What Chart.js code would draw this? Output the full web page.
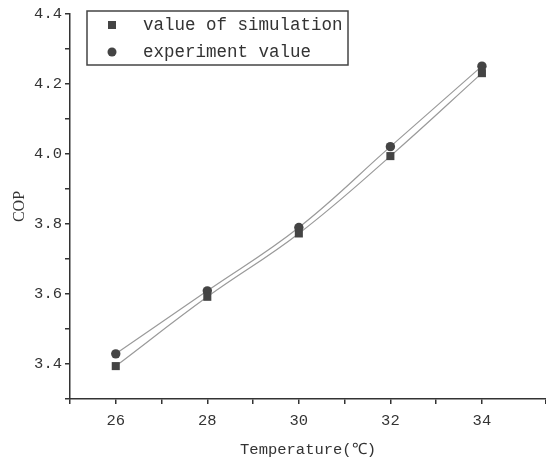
<!DOCTYPE html>
<html>
<head>
<meta charset="utf-8">
<script src="https://cdn.jsdelivr.net/npm/chart.js@4.4.1/dist/chart.umd.min.js"></script>
<style>
  html, body { margin: 0; padding: 0; background: #fff; }
  #wrap { width: 546px; height: 459px; }
</style>
</head>
<body>
<div id="wrap"><canvas id="copChart" width="546" height="459"></canvas></div>
<script>
// COP vs temperature
const temperatures = [26, 28, 30, 32, 34];
const simulationCop = [3.394, 3.592, 3.773, 3.994, 4.231];
const experimentCop = [3.429, 3.609, 3.790, 4.021, 4.251];
const xTickLabels = [26, 28, 30, 32, 34];
const yTickLabels = [3.4, 3.6, 3.8, 4.0, 4.2, 4.4];

const FONT = "'Liberation Mono', 'DejaVu Sans Mono', monospace";
const INK = '#333';

function toPoints(xs, ys) {
    return xs.map((x, i) => ({ x: x, y: ys[i] }));
}

// Boxed legend drawn inside the plot, upper left
const boxLegend = {
    id: 'boxLegend',
    afterDraw(chart) {
        const { ctx, chartArea } = chart;
        const left = chartArea.left + 17;
        const top = chartArea.top - 3;
        const w = 261, h = 54;
        ctx.save();
        ctx.strokeStyle = '#444';
        ctx.lineWidth = 1.5;
        ctx.strokeRect(left, top, w, h);
        ctx.font = "17.5px " + FONT;
        ctx.textBaseline = 'middle';
        chart.data.datasets.forEach((ds, i) => {
            const y = top + 14 + i * 27;
            ctx.fillStyle = ds.pointBackgroundColor;
            if (ds.pointStyle === 'rect') {
                ctx.fillRect(left + 21, y - 4, 8, 8);
            } else {
                ctx.beginPath();
                ctx.arc(left + 25, y, 4.5, 0, Math.PI * 2);
                ctx.fill();
            }
            ctx.fillStyle = INK;
            ctx.fillText(ds.label, left + 56, y);
        });
        ctx.restore();
    }
};

new Chart(document.getElementById('copChart'), {
    type: 'line',
    data: {
        datasets: [
            {
                label: 'value of simulation',
                data: toPoints(temperatures, simulationCop),
                borderColor: '#9a9a9a',
                borderWidth: 1.2,
                tension: 0.4,
                pointStyle: 'rect',
                pointRadius: 5.7,
                pointBackgroundColor: '#444',
                pointBorderWidth: 0
            },
            {
                label: 'experiment value',
                data: toPoints(temperatures, experimentCop),
                borderColor: '#9a9a9a',
                borderWidth: 1.2,
                tension: 0.4,
                pointStyle: 'circle',
                pointRadius: 4.7,
                pointBackgroundColor: '#444',
                pointBorderWidth: 0
            }
        ]
    },
    options: {
        responsive: false,
        animation: false,
        layout: { autoPadding: false, padding: { top: 14, right: 0, left: 0, bottom: 0 } },
        plugins: {
            legend: { display: false },
            tooltip: { enabled: false }
        },
        scales: {
            x: {
                type: 'linear',
                min: 25,
                max: 35.4,
                afterFit(scale) {
                    scale.height = 60;
                    scale.paddingLeft = 0;
                    scale.paddingRight = 0;
                },
                border: { display: true, color: INK, width: 1.5 },
                grid: { drawOnChartArea: false, drawTicks: true, tickLength: 5, color: INK, lineWidth: 1.5 },
                ticks: {
                    stepSize: 1,
                    padding: 8,
                    maxRotation: 0,
                    autoSkip: false,
                    color: INK,
                    font: { family: FONT, size: 15.5 },
                    callback: v => xTickLabels.includes(v) ? String(v) : ''
                },
                title: {
                    display: true,
                    text: 'Temperature(℃)',
                    color: INK,
                    font: { family: FONT, size: 15.5 },
                    padding: { top: 0, bottom: 0 }
                }
            },
            y: {
                min: 3.3,
                max: 4.4,
                afterFit(scale) { scale.width = 70; },
                border: { display: true, color: INK, width: 1.5 },
                grid: { drawOnChartArea: false, drawTicks: true, tickLength: 5, color: INK, lineWidth: 1.5 },
                ticks: {
                    stepSize: 0.1,
                    padding: 3,
                    autoSkip: false,
                    color: INK,
                    font: { family: FONT, size: 15.5 },
                    callback: v => {
                        const r = Math.round(v * 10) / 10;
                        return yTickLabels.some(t => Math.abs(t - r) < 1e-6) ? r.toFixed(1) : '';
                    }
                },
                title: {
                    display: true,
                    text: 'COP',
                    color: INK,
                    font: { family: "'Liberation Serif', serif", size: 16 },
                    padding: { top: 10, bottom: 0 }
                }
            }
        }
    },
    plugins: [boxLegend]
});
</script>
</body>
</html>
